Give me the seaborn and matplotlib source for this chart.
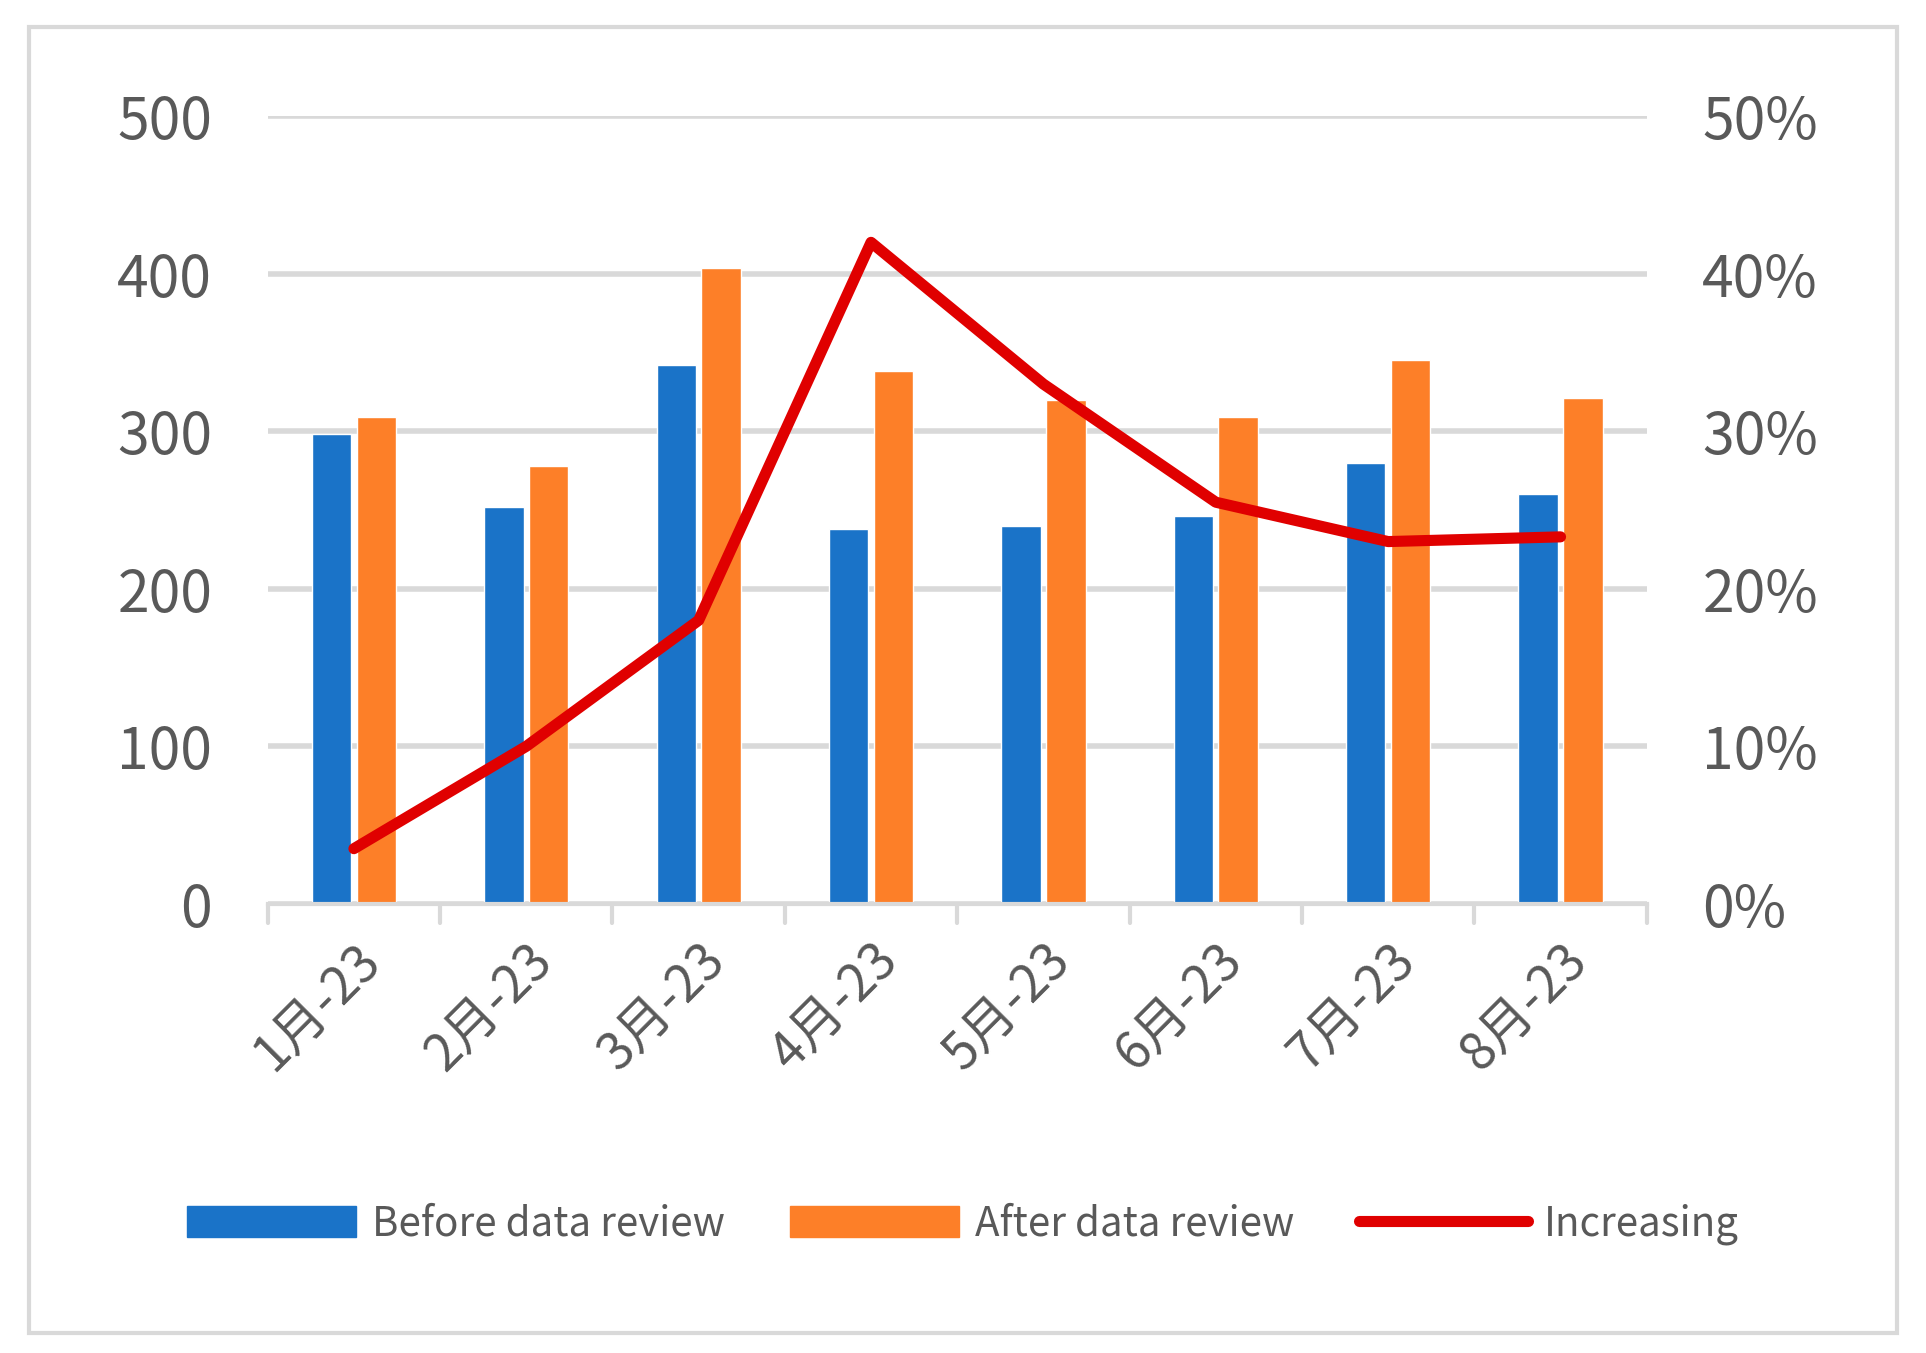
import pandas as pd
import matplotlib.pyplot as plt
import seaborn as sns
from matplotlib.patches import Rectangle
from matplotlib.lines import Line2D
from matplotlib.patches import Patch

months = ['1月-23', '2月-23', '3月-23', '4月-23', '5月-23', '6月-23', '7月-23', '8月-23']
before = [298, 252, 342, 238, 240, 246, 280, 260]
after = [309, 278, 404, 338, 320, 309, 345, 321]
increasing = [0.035, 0.10, 0.18, 0.42, 0.33, 0.255, 0.23, 0.233]

sns.set_style('white')
plt.rcParams['font.family'] = ['Noto Sans CJK SC', 'DejaVu Sans']
gray = '#595959'

df = pd.DataFrame({'Month': months * 2,
                   'Value': before + after,
                   'Series': ['Before data review'] * 8 + ['After data review'] * 8})

fig = plt.figure(figsize=(19.26, 13.53), dpi=100)
fig.patches.append(Rectangle((0.015, 0.015), 0.97, 0.965, transform=fig.transFigure,
                             fill=False, edgecolor='#d9d9d9', linewidth=3))
ax = fig.add_axes([0.139, 0.332, 0.716, 0.582])
sns.barplot(data=df, x='Month', y='Value', hue='Series',
            palette=['#1a73c8', '#fd7f28'], width=0.52, gap=0.12,
            saturation=1, ax=ax, legend=False)
ax.set_ylim(0, 500)
ax.set_xlim(-0.5, 7.5)
ax.set_yticks(range(0, 501, 100))
ax.grid(axis='y', color='#d9d9d9', linewidth=4)
ax.set_axisbelow(True)
for s in ['top', 'right', 'left']:
    ax.spines[s].set_visible(False)
ax.spines['bottom'].set_color('#d9d9d9')
ax.spines['bottom'].set_linewidth(3)
ax.set_xlabel('')
ax.set_ylabel('')
ax.set_xticks(range(8))
ax.set_xticklabels(months, rotation=45, ha='right', rotation_mode='anchor')
ax.tick_params(axis='y', labelsize=41, labelcolor=gray, length=0, pad=40)
ax.tick_params(axis='x', labelsize=37, labelcolor=gray, length=0, pad=22)
for b in [i - 0.5 for i in range(9)]:
    ax.plot([b, b], [0, -12], color='#d9d9d9', lw=3, clip_on=False)

ax2 = ax.twinx()
sns.lineplot(x=list(range(8)), y=increasing, color='#e00000', linewidth=8,
             ax=ax2, solid_capstyle='round')
ax2.set_ylim(0, 0.5)
ax2.set_yticks([0, 0.1, 0.2, 0.3, 0.4, 0.5])
ax2.set_yticklabels(['0%', '10%', '20%', '30%', '40%', '50%'])
ax2.tick_params(axis='y', labelsize=41, labelcolor=gray, length=0, pad=40)
for s in ax2.spines.values():
    s.set_visible(False)

handles = [Patch(color='#1a73c8'), Patch(color='#fd7f28'),
           Line2D([0], [0], color='#e00000', lw=8, solid_capstyle='round')]
fig.legend(handles, ['Before data review', 'After data review', 'Increasing'],
           loc='center', bbox_to_anchor=(0.5, 0.095), ncol=3, frameon=False,
           fontsize=29, labelcolor=gray, handlelength=4.2, handleheight=0.8,
           columnspacing=1.6, handletextpad=0.4)
fig.savefig('out.png', dpi=100)
